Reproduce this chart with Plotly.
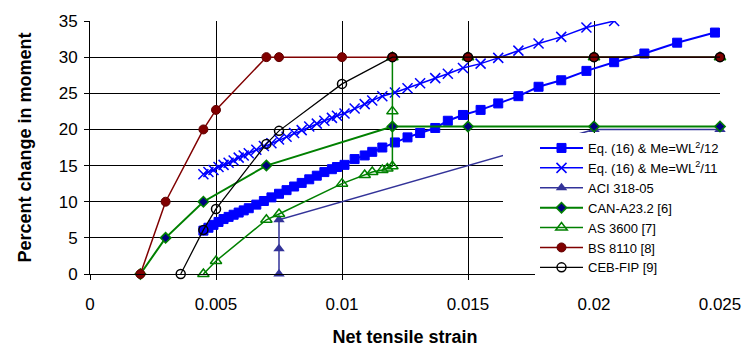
import plotly.graph_objects as go

# ---------------- data ----------------
eq12_x = [0.0045, 0.0047, 0.0049, 0.0051, 0.0053, 0.0055, 0.0057, 0.0059, 0.0061, 0.0063,
          0.0066, 0.0069, 0.0072, 0.0075, 0.0078, 0.0081, 0.0084, 0.0087, 0.0090, 0.0093,
          0.0096, 0.0098, 0.0101, 0.0105, 0.0109, 0.0112, 0.0116, 0.0121, 0.0126, 0.0131,
          0.0137, 0.0142, 0.0148, 0.0155, 0.0162, 0.0170, 0.0178, 0.0187, 0.0197, 0.0208,
          0.0220, 0.0233, 0.0248]
eq12_y = [6.0, 6.4, 6.8, 7.2, 7.6, 7.9, 8.2, 8.5, 8.8, 9.1,
          9.6, 10.1, 10.6, 11.1, 11.6, 12.1, 12.6, 13.1, 13.6, 14.1,
          14.5, 14.8, 15.1, 15.9, 16.4, 16.9, 17.5, 18.2, 18.9, 19.5,
          20.2, 21.2, 22.0, 22.7, 23.6, 24.6, 25.9, 26.8, 28.1, 29.3,
          30.5, 32.0, 33.4]

eq11_x = [0.0045, 0.0047, 0.0049, 0.0051, 0.0053, 0.0055, 0.0057, 0.0059, 0.0061, 0.0063,
          0.0066, 0.0069, 0.0072, 0.0075, 0.0078, 0.0081, 0.0084, 0.0087, 0.0090, 0.0093,
          0.0096, 0.0098, 0.0101, 0.0105, 0.0109, 0.0112, 0.0116, 0.0121, 0.0126, 0.0131,
          0.0137, 0.0142, 0.0148, 0.0155, 0.0162, 0.0170, 0.0178, 0.0187, 0.0197, 0.0208,
          0.0220]
eq11_y = [13.8, 14.1, 14.4, 14.8, 15.1, 15.4, 15.7, 16.1, 16.4, 16.7,
          17.2, 17.7, 18.1, 18.6, 19.0, 19.5, 19.9, 20.4, 20.8, 21.2,
          21.6, 21.9, 22.2, 22.9, 23.5, 24.0, 24.6, 25.1, 25.7, 26.4,
          27.1, 27.7, 28.5, 29.1, 29.9, 30.9, 31.9, 32.8, 34.1, 35.0,
          36.3]

aci_x = [0.0075, 0.0075, 0.0075, 0.020, 0.025]
aci_y = [0, 3.5, 7.5, 20, 20]

can_x = [0.002, 0.003, 0.0045, 0.007, 0.012, 0.015, 0.020, 0.025]
can_y = [0, 5, 10, 15, 20.4, 20.4, 20.4, 20.4]

as_x = [0.0045, 0.005, 0.007, 0.0075, 0.010, 0.0109, 0.0112, 0.0116, 0.0118, 0.012,
        0.012, 0.012, 0.015, 0.020, 0.025]
as_y = [0, 1.8, 7.5, 8.3, 12.5, 13.7, 14.1, 14.4, 14.6, 14.9,
        22.5, 30, 30, 30, 30]

bs_x = [0.002, 0.003, 0.0045, 0.005, 0.007, 0.0075, 0.010, 0.012, 0.015, 0.020, 0.025]
bs_y = [0, 10, 20, 22.7, 30, 30, 30, 30, 30, 30, 30]

ceb_x = [0.0036, 0.0045, 0.005, 0.007, 0.0075, 0.010, 0.012, 0.015, 0.020, 0.025]
ceb_y = [0, 6.1, 9, 18, 19.8, 26.3, 30, 30, 30, 30]

x_tickvals = [0, 0.005, 0.01, 0.015, 0.02, 0.025]
x_ticktext = ["0", "0.005", "0.01", "0.015", "0.02", "0.025"]
y_tickvals = [0, 5, 10, 15, 20, 25, 30, 35]

names = ["Eq. (16) & Me=WL<sup>2</sup>/12", "Eq. (16) & Me=WL<sup>2</sup>/11",
         "ACI 318-05", "CAN-A23.2 [6]", "AS 3600 [7]", "BS 8110 [8]", "CEB-FIP [9]"]

# ---------------- figure ----------------
FONT = "Liberation Sans, Arial, sans-serif"
fig = go.Figure()

fig.add_trace(go.Scatter(x=eq12_x, y=eq12_y, name=names[0], mode="lines+markers",
                         line=dict(color="#0000FF", width=2),
                         marker=dict(symbol="square", size=9, color="#0000FF",
                                     line=dict(color="#0000FF", width=1)),
                         cliponaxis=False))
fig.add_trace(go.Scatter(x=eq11_x, y=eq11_y, name=names[1], mode="lines+markers",
                         line=dict(color="#0000FF", width=1.5),
                         marker=dict(symbol="x-thin", size=10, color="#0000FF",
                                     line=dict(color="#0000FF", width=1.5)),
                         cliponaxis=True))
fig.add_trace(go.Scatter(x=aci_x, y=aci_y, name=names[2], mode="lines+markers",
                         line=dict(color="#333399", width=1.5),
                         marker=dict(symbol="triangle-up", size=10, color="#333399"),
                         cliponaxis=False))
fig.add_trace(go.Scatter(x=can_x, y=can_y, name=names[3], mode="lines+markers",
                         line=dict(color="#008000", width=2),
                         marker=dict(symbol="diamond", size=8, color="#000080",
                                     line=dict(color="#008000", width=1.5)),
                         cliponaxis=False))
fig.add_trace(go.Scatter(x=as_x, y=as_y, name=names[4], mode="lines+markers",
                         line=dict(color="#008000", width=1.5),
                         marker=dict(symbol="triangle-up-open", size=10, color="#008000",
                                     line=dict(color="#008000", width=1.5)),
                         cliponaxis=False))
fig.add_trace(go.Scatter(x=bs_x, y=bs_y, name=names[5], mode="lines+markers",
                         line=dict(color="#800000", width=1.5),
                         marker=dict(symbol="circle", size=9, color="#800000",
                                     line=dict(color="#600000", width=1)),
                         cliponaxis=False))
fig.add_trace(go.Scatter(x=ceb_x, y=ceb_y, name=names[6], mode="lines+markers",
                         line=dict(color="#000000", width=1.25),
                         marker=dict(symbol="circle-open", size=9, color="#000000",
                                     line=dict(color="#000000", width=1.5)),
                         cliponaxis=False))

L, R, T, B = 90, 27, 21, 73
W, H = 747, 347
pw, ph = W - L - R, H - T - B

def px_x(p):
    return (p - L) / pw

def px_y(p):
    return (H - B - p) / ph

fig.update_layout(
    width=W, height=H,
    margin=dict(l=L, r=R, t=T, b=B, pad=0),
    paper_bgcolor="white", plot_bgcolor="white",
    font=dict(family=FONT, size=17, color="black"),
    showlegend=True,
    legend=dict(x=px_x(535), y=px_y(133), xanchor="left", yanchor="top",
                bgcolor="white", borderwidth=0,
                font=dict(family=FONT, size=13, color="black"),
                itemwidth=43, tracegroupgap=0),
    shapes=[dict(type="rect", xref="paper", yref="paper",
                 x0=px_x(503), x1=px_x(536), y0=px_y(271), y1=px_y(133),
                 fillcolor="white", line=dict(width=0), layer="above")],
)

fig.update_xaxes(range=[0, 0.025], tickvals=x_tickvals, ticktext=x_ticktext,
                 showgrid=True, gridcolor="black", gridwidth=1,
                 showline=True, linecolor="black", linewidth=1, zeroline=False,
                 ticks="outside", ticklen=5, tickcolor="black", ticklabelstandoff=10,
                 tickfont=dict(family=FONT, size=17),
                 title=dict(text="<b>Net tensile strain</b>", standoff=22,
                            font=dict(family=FONT, size=18)),
                 automargin=False)
fig.update_yaxes(range=[0, 35], tickvals=y_tickvals,
                 showgrid=True, gridcolor="black", gridwidth=1,
                 showline=True, linecolor="black", linewidth=1, zeroline=False,
                 ticks="outside", ticklen=5, tickcolor="black", ticklabelstandoff=3,
                 tickfont=dict(family=FONT, size=17),
                 title=dict(text="<b>Percent change in moment</b>", standoff=22,
                            font=dict(family=FONT, size=18)),
                 automargin=False)

fig.write_html("out.html")
